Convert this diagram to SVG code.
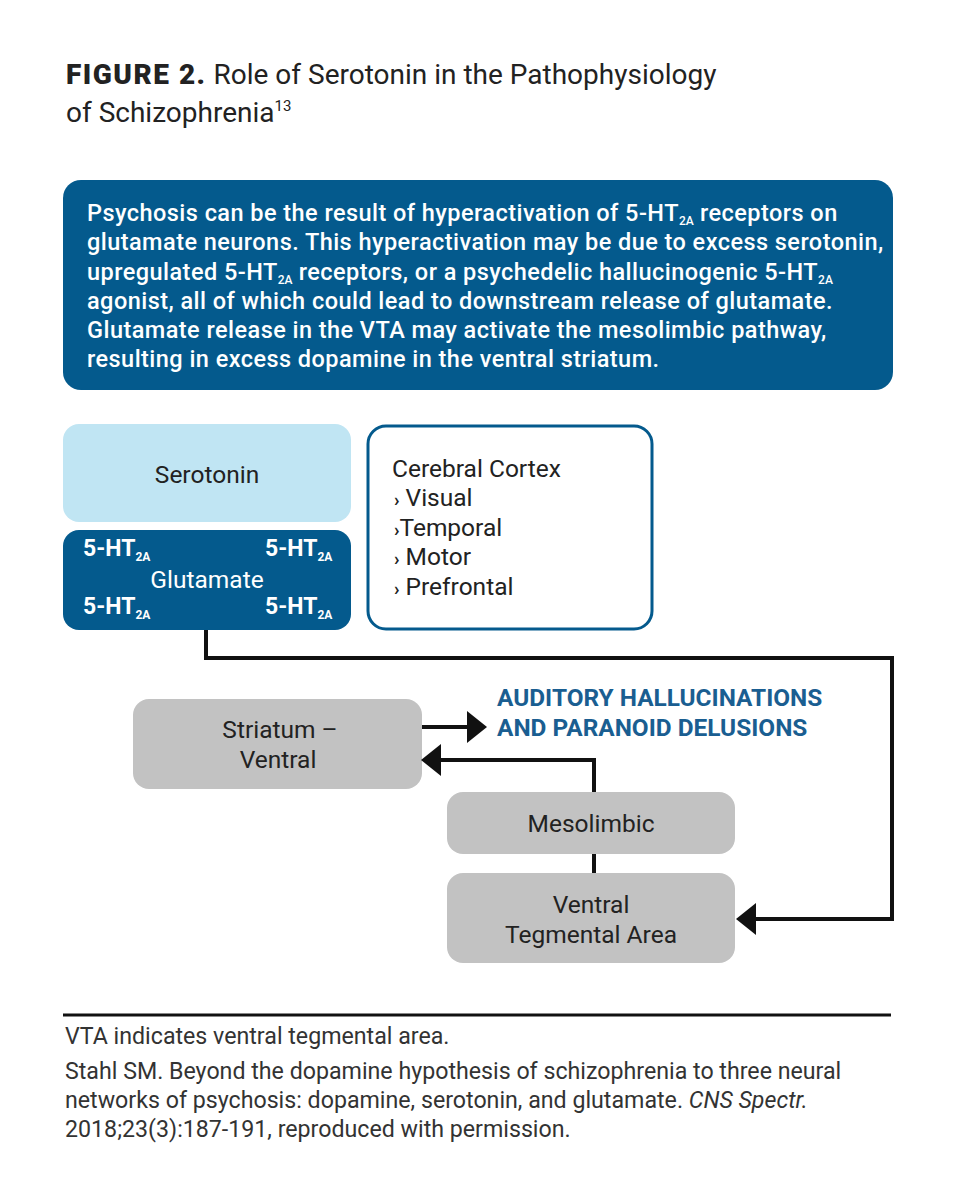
<svg xmlns="http://www.w3.org/2000/svg" width="955" height="1200" viewBox="0 0 955 1200">
<style>
text{font-family:Roboto,"Liberation Sans",sans-serif}
.t{font-size:28px;fill:#222}
.b{font-size:23.5px;fill:#fff;font-weight:500;letter-spacing:0.45px}
.n{font-size:24.5px;fill:#222}
.w{font-size:24.5px;fill:#fff}
.h{font-size:23px;fill:#fff;font-weight:700}
.sub{font-size:12px;letter-spacing:0}
.a{font-size:24.4px;fill:#1a5e91;font-weight:700}
.f{font-size:23.2px;fill:#333}
.ln{fill:none;stroke:#111;stroke-width:4}
.gray{fill:#c2c2c2}
.chev{font-size:18px;font-weight:700}
</style>
<defs>
<marker id="ah" viewBox="0 0 20 32" refX="0" refY="16" markerWidth="20" markerHeight="32" markerUnits="userSpaceOnUse" orient="auto" preserveAspectRatio="none" overflow="visible"><path d="M0,0 L20,16 L0,32 z" fill="#111"/></marker>
</defs>
<g id="title">
<text x="66" y="84" class="t"><tspan font-weight="900" letter-spacing="1.5">FIGURE 2.</tspan> Role of Serotonin in the Pathophysiology</text>
<text x="66" y="122" class="t">of Schizophrenia<tspan font-size="15" dy="-11">13</tspan></text>
</g>
<g id="summary">
<rect x="63" y="180" width="830" height="210" rx="18" fill="#045a8d"/>
<text class="b" x="87" y="221">Psychosis can be the result of hyperactivation of 5-HT<tspan class="sub" dy="4">2A</tspan><tspan dy="-4"> receptors on</tspan></text>
<text class="b" x="87" y="250">glutamate neurons. This hyperactivation may be due to excess serotonin,</text>
<text class="b" x="87" y="280">upregulated 5-HT<tspan class="sub" dy="4">2A</tspan><tspan dy="-4"> receptors, or a psychedelic hallucinogenic 5-HT</tspan><tspan class="sub" dy="4">2A</tspan></text>
<text class="b" x="87" y="309">agonist, all of which could lead to downstream release of glutamate.</text>
<text class="b" x="87" y="338">Glutamate release in the VTA may activate the mesolimbic pathway,</text>
<text class="b" x="87" y="367">resulting in excess dopamine in the ventral striatum.</text>
</g>
<g id="serotonin">
<rect x="63" y="424" width="288" height="98" rx="16" fill="#c0e5f3"/>
<text class="n" x="207" y="483" text-anchor="middle">Serotonin</text>
</g>
<g id="glutamate">
<rect x="63" y="530" width="288" height="100" rx="16" fill="#045a8d"/>
<text class="h" x="83" y="556">5-HT<tspan class="sub" dy="5">2A</tspan></text>
<text class="h" x="265" y="556">5-HT<tspan class="sub" dy="5">2A</tspan></text>
<text class="w" x="207" y="588" text-anchor="middle">Glutamate</text>
<text class="h" x="83" y="614">5-HT<tspan class="sub" dy="5">2A</tspan></text>
<text class="h" x="265" y="614">5-HT<tspan class="sub" dy="5">2A</tspan></text>
</g>
<g id="cortex">
<rect x="368" y="426" width="284" height="203" rx="18" fill="#fff" stroke="#045a8d" stroke-width="3"/>
<text class="n" x="392" y="477">Cerebral Cortex</text>
<text class="n" x="394" y="506"><tspan class="chev">›</tspan> Visual</text>
<text class="n" x="394" y="536"><tspan class="chev">›</tspan>Temporal</text>
<text class="n" x="394" y="565"><tspan class="chev">›</tspan> Motor</text>
<text class="n" x="394" y="595"><tspan class="chev">›</tspan> Prefrontal</text>
</g>
<g id="striatum">
<rect x="133" y="699" width="289" height="90" rx="16" class="gray"/>
<text class="n" x="280" y="738" text-anchor="middle">Striatum –</text>
<text class="n" x="278" y="768" text-anchor="middle">Ventral</text>
</g>
<g id="outcome">
<text class="a" x="497" y="706">AUDITORY HALLUCINATIONS</text>
<text class="a" x="497" y="736">AND PARANOID DELUSIONS</text>
</g>
<g id="mesolimbic">
<rect x="447" y="792" width="288" height="62" rx="16" class="gray"/>
<text class="n" x="591" y="832" text-anchor="middle">Mesolimbic</text>
</g>
<g id="vta">
<rect x="447" y="873" width="288" height="90" rx="16" class="gray"/>
<text class="n" x="591" y="913" text-anchor="middle">Ventral</text>
<text class="n" x="591" y="943" text-anchor="middle">Tegmental Area</text>
</g>
<g id="connectors">
<path class="ln" d="M206,630 V658 H892 V919 H756" marker-end="url(#ah)"/>
<path class="ln" d="M422,727 H467" marker-end="url(#ah)"/>
<path class="ln" d="M594,792 V760 H441" marker-end="url(#ah)"/>
<path class="ln" d="M594,854 V873"/>
</g>
<g id="footer">
<line x1="63" y1="1015" x2="891" y2="1015" stroke="#111" stroke-width="3"/>
<text class="f" x="65" y="1044">VTA indicates ventral tegmental area.</text>
<text class="f" x="65" y="1079">Stahl SM. Beyond the dopamine hypothesis of schizophrenia to three neural</text>
<text class="f" x="65" y="1108">networks of psychosis: dopamine, serotonin, and glutamate. <tspan font-style="italic">CNS Spectr.</tspan></text>
<text class="f" x="65" y="1137">2018;23(3):187-191, reproduced with permission.</text>
</g>
</svg>
